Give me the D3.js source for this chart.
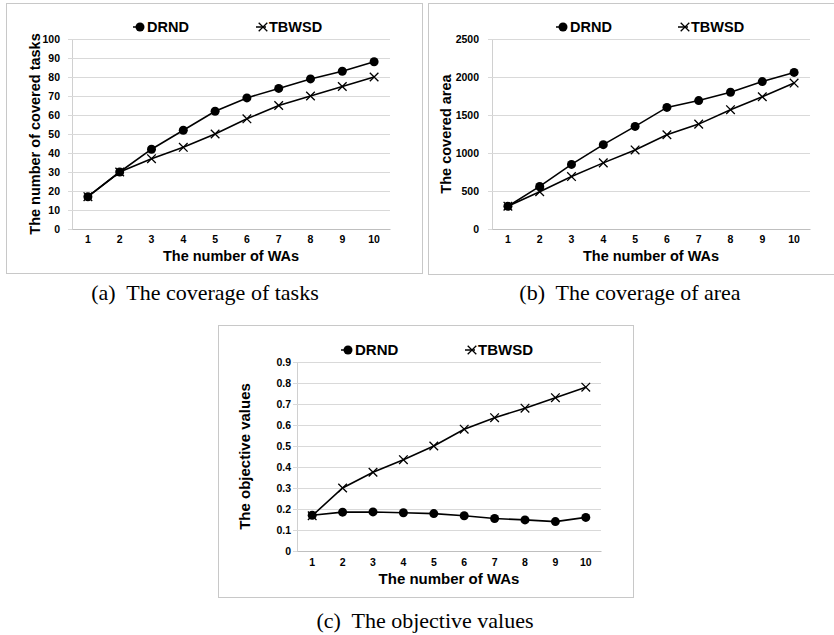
<!DOCTYPE html>
<html><head><meta charset="utf-8">
<script src="https://cdn.jsdelivr.net/npm/d3@7/dist/d3.min.js"></script>
<style>
body{margin:0;background:#fff;}
svg{display:block;}
</style></head>
<body>
<svg id="chart" width="834" height="635"></svg>
<script>
// ---- data ----
const categories = [1,2,3,4,5,6,7,8,9,10];
const seriesNames = ["DRND","TBWSD"];
const tasksDRND  = [17,30,42,52,62,69,74,79,83,88];
const tasksTBWSD = [17,30,37,43,50,58,65,70,75,80];
const areaDRND   = [300,560,850,1110,1350,1600,1690,1800,1940,2060];
const areaTBWSD  = [300,490,690,870,1040,1240,1380,1570,1740,1920];
const objDRND    = [0.17,0.185,0.186,0.182,0.178,0.168,0.155,0.148,0.14,0.16];
const objTBWSD   = [0.168,0.30,0.375,0.435,0.50,0.58,0.635,0.68,0.73,0.78];
const tasksTicks = [0,10,20,30,40,50,60,70,80,90,100];
const areaTicks  = [0,500,1000,1500,2000,2500];
const objTicks   = [0,0.1,0.2,0.3,0.4,0.5,0.6,0.7,0.8,0.9];
const xTitle = "The number of WAs";
const captions = ["(a)  The coverage of tasks","(b)  The coverage of area","(c)  The objective values"];

const svg = d3.select("#chart");
const SANS = "'Liberation Sans', Arial, sans-serif";
const SERIF = "'Liberation Serif', 'Times New Roman', serif";

function panel(cfg){
  const g = svg.append("g");
  // frame
  g.append("rect").attr("x",cfg.frame[0]+0.5).attr("y",cfg.frame[1]+0.5)
    .attr("width",cfg.frame[2]-cfg.frame[0]).attr("height",cfg.frame[3]-cfg.frame[1])
    .attr("fill","none").attr("stroke","#c8c8c8").attr("stroke-width",1);
  const x = d3.scaleBand().domain(cfg.cats).range([cfg.left,cfg.right]);
  const y = d3.scaleLinear().domain([cfg.ticks[0],cfg.ticks[cfg.ticks.length-1]]).range([cfg.bottom,cfg.top]);
  // gridlines via axis
  const ya = g.append("g").attr("transform",`translate(${cfg.left},0)`)
    .call(d3.axisLeft(y).tickValues(cfg.ticks).tickSize(-(cfg.right-cfg.left)).tickPadding(0).tickFormat(""));
  ya.select(".domain").attr("stroke","#d0d0d0");
  ya.selectAll(".tick line").attr("stroke","#d9d9d9").attr("x1",-4);
  // y tick labels
  g.append("g").selectAll("text").data(cfg.ticks).join("text")
    .attr("x",cfg.labelRight).attr("y",d=>y(d)).attr("dy","0.35em")
    .attr("text-anchor","end").attr("font-family",SANS).attr("font-weight","bold")
    .attr("font-size",cfg.tickSize).attr("fill","#000").text(cfg.fmt);
  // x axis
  const xa = g.append("g").attr("transform",`translate(0,${cfg.bottom})`)
    .call(d3.axisBottom(x).tickSize(0).tickPadding(0).tickFormat(""));
  xa.select(".domain").attr("stroke","#bfbfbf");
  g.append("g").selectAll("text").data(cfg.cats).join("text")
    .attr("x",d=>x(d)+x.bandwidth()/2).attr("y",cfg.xLabelY).attr("dy","0.35em")
    .attr("text-anchor","middle").attr("font-family",SANS).attr("font-weight","bold")
    .attr("font-size",cfg.tickSize).attr("fill","#000").text(d=>d);
  // titles
  g.append("text").attr("x",(cfg.left+cfg.right)/2).attr("y",cfg.xTitleY).attr("dy","0.35em")
    .attr("text-anchor","middle").attr("font-family",SANS).attr("font-weight","bold")
    .attr("font-size",cfg.titleSize).text(xTitle);
  g.append("text").attr("transform",`translate(${cfg.yTitleX},${(cfg.top+cfg.bottom)/2}) rotate(-90)`)
    .attr("dy","0.35em").attr("text-anchor","middle").attr("font-family",SANS).attr("font-weight","bold")
    .attr("font-size",cfg.titleSize).text(cfg.yTitle);
  // lines
  const line = d3.line().x((d,i)=>x(cfg.cats[i])+x.bandwidth()/2).y(d=>y(d));
  cfg.series.forEach((s,si)=>{
    g.append("path").datum(s).attr("d",line).attr("fill","none").attr("stroke","#000").attr("stroke-width",1.6);
  });
  // markers
  const cross = (sel,cx,cy,r)=>{
    sel.append("path").attr("d",`M${cx-r},${cy-r}L${cx+r},${cy+r}M${cx-r},${cy+r}L${cx+r},${cy-r}`)
      .attr("stroke","#000").attr("stroke-width",1.3).attr("fill","none");
  };
  cfg.series[1].forEach((v,i)=>cross(g,x(cfg.cats[i])+x.bandwidth()/2,y(v),4.3));
  g.append("g").selectAll("circle").data(cfg.series[0]).join("circle")
    .attr("cx",(d,i)=>x(cfg.cats[i])+x.bandwidth()/2).attr("cy",d=>y(d)).attr("r",4.5).attr("fill","#000");
  // legend
  const ly = cfg.legendY;
  const l0 = cfg.legendX[0], l1 = cfg.legendX[1];
  g.append("line").attr("x1",l0-7).attr("x2",l0+3).attr("y1",ly).attr("y2",ly).attr("stroke","#000").attr("stroke-width",1.5);
  g.append("circle").attr("cx",l0).attr("cy",ly).attr("r",4.5).attr("fill","#000");
  g.append("text").attr("x",l0+7).attr("y",ly).attr("dy","0.36em").attr("font-family",SANS).attr("font-weight","bold")
    .attr("font-size",cfg.legendSize).text(seriesNames[0]);
  g.append("line").attr("x1",l1-7).attr("x2",l1+3).attr("y1",ly).attr("y2",ly).attr("stroke","#000").attr("stroke-width",1.5);
  cross(g,l1,ly,4.3);
  g.append("text").attr("x",l1+6).attr("y",ly).attr("dy","0.36em").attr("font-family",SANS).attr("font-weight","bold")
    .attr("font-size",cfg.legendSize).text(seriesNames[1]);
  // caption
  g.append("text").attr("x",cfg.capX).attr("y",cfg.capY).attr("dy","0.35em").attr("text-anchor","middle")
    .attr("font-family",SERIF).attr("font-size",cfg.capSize).attr("fill","#000")
    .attr("xml:space","preserve").style("white-space","pre").text(cfg.caption);
}

panel({frame:[6,3,422,273], left:72, right:390, top:39, bottom:229, cats:categories,
  ticks:tasksTicks, fmt:d=>d, labelRight:60, tickSize:10.5, xLabelY:239, xTitleY:256, yTitleX:35,
  titleSize:14.5, yTitle:"The number of covered tasks", series:[tasksDRND,tasksTBWSD],
  legendY:27, legendX:[140,263], legendSize:14.5, caption:captions[0], capX:205, capY:292, capSize:22});
panel({frame:[428,3,840,274], left:492, right:810, top:39, bottom:229, cats:categories,
  ticks:areaTicks, fmt:d=>d, labelRight:479, tickSize:10.5, xLabelY:239, xTitleY:256, yTitleX:446,
  titleSize:14.5, yTitle:"The covered area", series:[areaDRND,areaTBWSD],
  legendY:27, legendX:[563,685], legendSize:14.5, caption:captions[1], capX:630, capY:292, capSize:22});
panel({frame:[218,325,633,597], left:297, right:601, top:362, bottom:551, cats:categories,
  ticks:objTicks, fmt:d=>d===0?"0":d3.format(".1f")(d), labelRight:291, tickSize:10.5, xLabelY:562, xTitleY:579, yTitleX:245,
  titleSize:15, yTitle:"The objective values", series:[objDRND,objTBWSD],
  legendY:350, legendX:[348,472], legendSize:15, caption:captions[2], capX:425, capY:620, capSize:22});
</script>
</body></html>
